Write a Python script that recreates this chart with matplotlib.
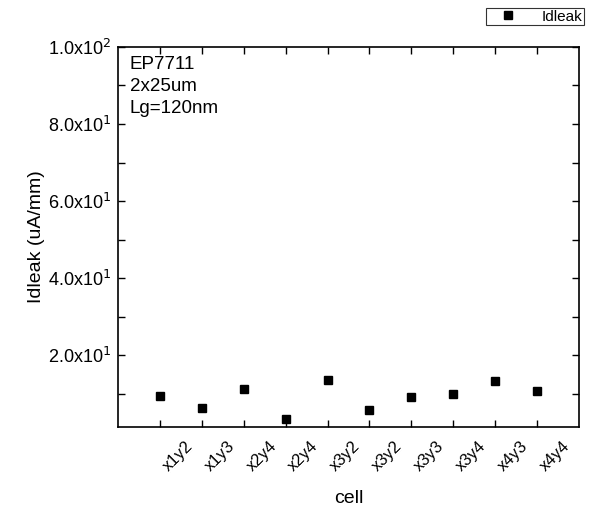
import matplotlib
matplotlib.use("Agg")
import matplotlib.pyplot as plt
from matplotlib.ticker import FixedLocator, FuncFormatter

plt.rcParams['font.family'] = ['Liberation Sans', 'DejaVu Sans']

cells = ["x1y2", "x1y3", "x2y4", "x2y4", "x3y2", "x3y2", "x3y3", "x3y4", "x4y3", "x4y4"]
idleak = [9.4, 6.3, 11.1, 3.4, 13.6, 5.8, 9.2, 9.9, 13.3, 10.6]

fig = plt.figure(figsize=(5.89, 5.13), dpi=100)
ax = fig.add_axes([0.2003, 0.1676, 0.7827, 0.7408])

x = list(range(1, len(cells) + 1))
ax.plot(x, idleak, linestyle='none', marker='s', markersize=6, color='black', label='Idleak')

ax.set_xlim(0, 11)
ax.set_ylim(1.3, 100)
ax.set_xticks(x)
ax.set_xticklabels(cells, rotation=45, ha='left', va='top', fontsize=12)
ax.yaxis.set_major_locator(FixedLocator([20, 40, 60, 80, 100]))
ax.yaxis.set_minor_locator(FixedLocator([10, 30, 50, 70, 90]))

def fmt(v, pos):
    import math
    e = int(math.floor(math.log10(v)))
    m = v / 10 ** e
    return r"%.1fx10$^{%d}$" % (m, e)

ax.yaxis.set_major_formatter(FuncFormatter(fmt))
ax.tick_params(axis='both', which='both', direction='in', top=True, right=True, width=1.0)
ax.tick_params(axis='both', which='major', length=5)
ax.tick_params(axis='y', which='major', labelsize=13, pad=5)
ax.tick_params(axis='y', which='minor', length=5)
ax.tick_params(axis='x', which='major', pad=8)
for s in ax.spines.values():
    s.set_linewidth(1.2)

ax.set_xlabel('cell', fontsize=14, labelpad=12)
ax.set_ylabel('Idleak (uA/mm)', fontsize=14, labelpad=2)

ax.text(0.026, 0.975, "EP7711\n2x25um\nLg=120nm", transform=ax.transAxes,
        ha='left', va='top', fontsize=13.5, linespacing=1.35)

leg = ax.legend(loc='upper right', bbox_to_anchor=(1.01, 1.102), fontsize=11,
                frameon=True, fancybox=False, edgecolor='black', handlelength=2.6,
                handletextpad=0.9, borderpad=0.1, borderaxespad=0)
leg.get_frame().set_linewidth(0.8)

fig.savefig('out.png', dpi=100)
